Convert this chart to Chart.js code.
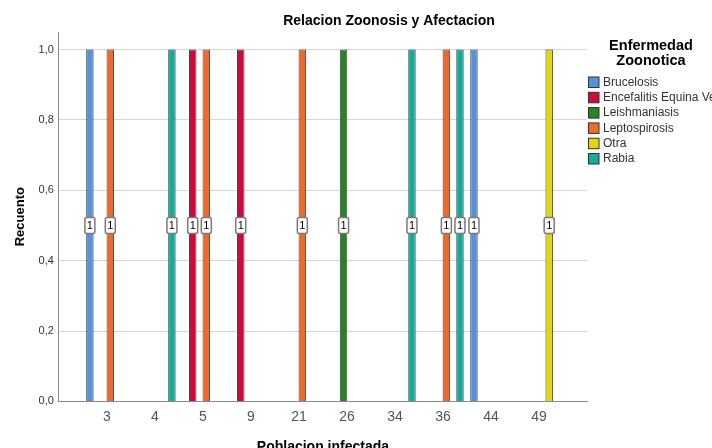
<!DOCTYPE html>
<html>
<head>
    <title>Relacion Zoonosis y Afectacion</title>
    <script src="https://cdn.jsdelivr.net/npm/chart.js"></script>
    <style>
        body {
            margin: 0;
            background-color: #fff;
        }
        #chartContainer {
            width: 712px;
            height: 448px;
        }
    </style>
</head>
<body>
    <div id="chartContainer">
        <canvas id="zoonosisChart"></canvas>
    </div>

    <script>
        // Poblacion infectada (categorias del eje X)
        var categories = ["3", "4", "5", "9", "21", "26", "34", "36", "44", "49"];

        var diseases = ["Brucelosis", "Encefalitis Equina Venezolana", "Leishmaniasis", "Leptospirosis", "Otra", "Rabia"];
        var diseaseColors = ["#5592dd", "#d2073a", "#2a8227", "#f0692a", "#e1d50c", "#11ad99"];

        // Recuento por categoria, null = sin barra
        var brucelosis    = [1, null, null, null, null, null, null, null, 1, null];
        var encefalitis   = [null, null, 1, 1, null, null, null, null, null, null];
        var leishmaniasis = [null, null, null, null, null, 1, null, null, null, null];
        var leptospirosis = [1, null, 1, null, 1, null, null, 1, null, null];
        var otra          = [null, null, null, null, null, null, null, null, null, 1];
        var rabia         = [null, 1, null, null, null, null, 1, 1, null, null];

        var yTicks = [0, 0.2, 0.4, 0.6, 0.8, 1.0];

        var seriesValues = [brucelosis, encefalitis, leishmaniasis, leptospirosis, otra, rabia];

        Chart.defaults.font.family = "'Liberation Sans', Arial, sans-serif";

        // empty slots at both ends give the extra margin SPSS leaves
        var labels = [""].concat(categories, [""]);

        var datasets = seriesValues.map(function(values, i) {
            return {
                label: diseases[i],
                data: [null].concat(values, [null]),
                backgroundColor: diseaseColors[i],
                borderColor: "rgba(40,40,40,0.85)",
                borderWidth: 1,
                categoryPercentage: 0.85,
                barPercentage: 1.1
            };
        });

        var countLabels = {
            id: "countLabels",
            afterDatasetsDraw: function(chart) {
                var ctx = chart.ctx;
                var yScale = chart.scales.y;
                ctx.save();
                chart.data.datasets.forEach(function(ds, i) {
                    var meta = chart.getDatasetMeta(i);
                    meta.data.forEach(function(bar, j) {
                        var v = ds.data[j];
                        if (v === null) return;
                        var cx = bar.x;
                        var cy = yScale.getPixelForValue(v / 2);
                        var w = 10, h = 16;
                        ctx.beginPath();
                        ctx.roundRect(cx - w / 2, cy - h / 2, w, h, 2);
                        ctx.fillStyle = "#fff";
                        ctx.fill();
                        ctx.lineWidth = 1.5;
                        ctx.strokeStyle = "#7a7a7a";
                        ctx.stroke();
                        ctx.fillStyle = "#000";
                        ctx.font = "11px 'Liberation Sans', Arial, sans-serif";
                        ctx.textAlign = "center";
                        ctx.textBaseline = "middle";
                        ctx.fillText(String(v), cx, cy + 0.5);
                    });
                });
                ctx.restore();
            }
        };

        var titleAndLegend = {
            id: "titleAndLegend",
            afterDraw: function(chart) {
                var ctx = chart.ctx;
                ctx.save();
                ctx.fillStyle = "#000";
                ctx.textAlign = "center";
                ctx.textBaseline = "middle";
                ctx.font = "bold 14px 'Liberation Sans', Arial, sans-serif";
                ctx.fillText("Relacion Zoonosis y Afectacion", 389, 21.5);

                ctx.font = "bold 14.5px 'Liberation Sans', Arial, sans-serif";
                ctx.fillText("Enfermedad", 651, 46);
                ctx.fillText("Zoonotica", 651, 61);

                ctx.textAlign = "left";
                ctx.font = "12px 'Liberation Sans', Arial, sans-serif";
                chart.data.datasets.forEach(function(ds, i) {
                    var top = 77 + i * 15.3;
                    ctx.fillStyle = ds.backgroundColor;
                    ctx.fillRect(588.5, top, 10.5, 10.5);
                    ctx.lineWidth = 1;
                    ctx.strokeStyle = "#333";
                    ctx.strokeRect(588.5, top, 10.5, 10.5);
                    ctx.fillStyle = "#333";
                    ctx.fillText(ds.label, 603, top + 5.5);
                });
                ctx.restore();
            }
        };

        new Chart(document.getElementById("zoonosisChart"), {
            type: "bar",
            data: {
                labels: labels,
                datasets: datasets
            },
            options: {
                responsive: true,
                maintainAspectRatio: false,
                animation: false,
                layout: {
                    padding: { top: 32, right: 125, bottom: -8, left: 0 }
                },
                plugins: {
                    legend: { display: false },
                    title: { display: false },
                    tooltip: { enabled: false }
                },
                scales: {
                    x: {
                        offset: false,
                        grid: { display: false, drawTicks: false },
                        border: { display: true, color: "#8a8a8a", width: 1 },
                        ticks: {
                            color: "#555",
                            padding: 7,
                            maxRotation: 0,
                            autoSkip: false,
                            font: { size: 14 }
                        },
                        title: {
                            display: true,
                            text: "Poblacion infectada",
                            color: "#000",
                            font: { size: 14, weight: "bold" },
                            padding: { top: 7, bottom: 0 }
                        }
                    },
                    y: {
                        min: 0,
                        max: 1.05,
                        afterBuildTicks: function(scale) {
                            scale.ticks = yTicks.map(function(v) { return { value: v }; });
                        },
                        grid: {
                            drawTicks: false,
                            color: function(c) { return c.tick && c.tick.value === 0 ? "rgba(0,0,0,0)" : "#d6d6d6"; },
                            lineWidth: 1
                        },
                        border: { display: true, color: "#8a8a8a", width: 1 },
                        ticks: {
                            color: "#333",
                            padding: 5,
                            font: { size: 11 },
                            callback: function(value) {
                                return value.toFixed(1).replace(".", ",");
                            }
                        },
                        title: {
                            display: true,
                            text: "Recuento",
                            color: "#000",
                            font: { size: 13, weight: "bold" },
                            padding: { top: 13, bottom: 5 }
                        }
                    }
                }
            },
            plugins: [countLabels, titleAndLegend]
        });
    </script>
</body>
</html>
